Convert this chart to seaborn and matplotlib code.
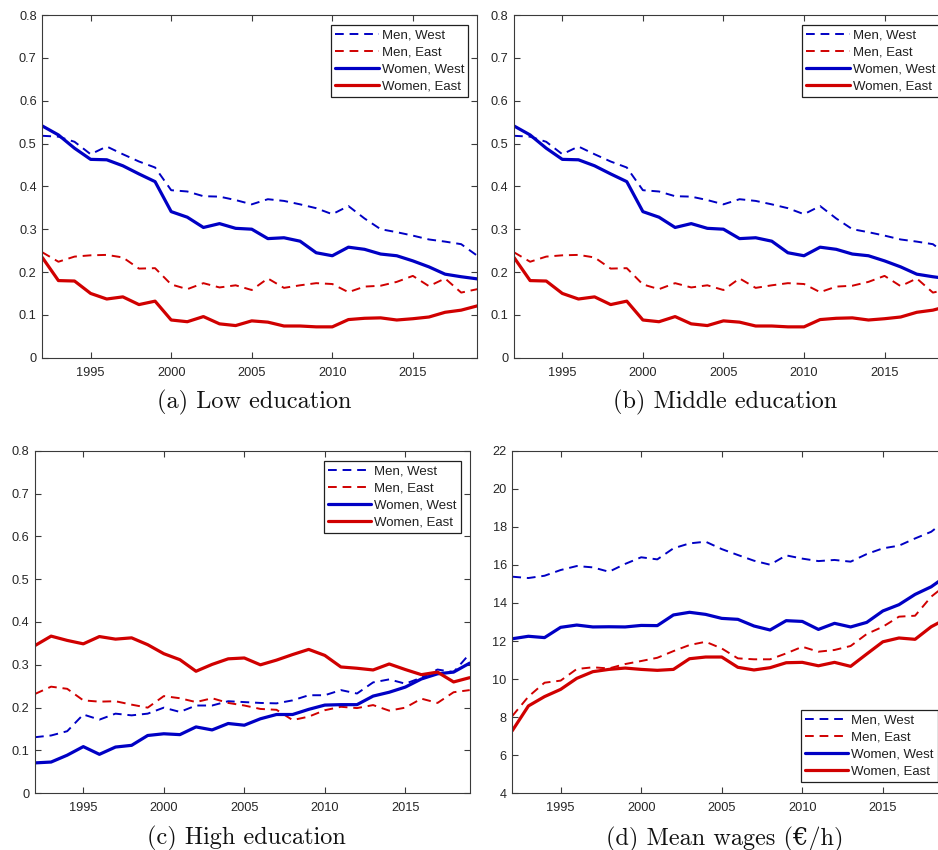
import matplotlib
matplotlib.use("Agg")
import matplotlib.pyplot as plt
import seaborn as sns
import numpy as np
import pandas as pd

years = list(range(1992, 2020))

# (a) Low education
low_men_west = [0.518, 0.516, 0.504, 0.475, 0.493, 0.475, 0.458, 0.444, 0.391, 0.388,
                0.377, 0.376, 0.368, 0.358, 0.370, 0.366, 0.358, 0.349, 0.335, 0.354,
                0.325, 0.300, 0.293, 0.285, 0.276, 0.271, 0.265, 0.238]
low_men_east = [0.246, 0.224, 0.236, 0.239, 0.240, 0.234, 0.208, 0.209, 0.171, 0.160,
                0.174, 0.164, 0.169, 0.158, 0.185, 0.163, 0.169, 0.174, 0.172, 0.153,
                0.166, 0.168, 0.177, 0.191, 0.167, 0.185, 0.152, 0.160]
low_women_west = [0.541, 0.520, 0.489, 0.463, 0.462, 0.448, 0.429, 0.411, 0.341, 0.328,
                  0.304, 0.313, 0.302, 0.300, 0.278, 0.280, 0.272, 0.245, 0.238, 0.258,
                  0.253, 0.242, 0.238, 0.226, 0.212, 0.195, 0.189, 0.184]
low_women_east = [0.234, 0.180, 0.179, 0.150, 0.137, 0.142, 0.124, 0.132, 0.088, 0.084,
                  0.096, 0.079, 0.075, 0.086, 0.083, 0.074, 0.074, 0.072, 0.072, 0.089,
                  0.092, 0.093, 0.088, 0.091, 0.095, 0.106, 0.111, 0.121]

# (b) Middle education
mid_men_west = [0.518, 0.516, 0.504, 0.475, 0.493, 0.475, 0.458, 0.444, 0.391, 0.388,
                0.377, 0.376, 0.368, 0.358, 0.370, 0.366, 0.358, 0.349, 0.335, 0.354,
                0.325, 0.300, 0.293, 0.285, 0.276, 0.271, 0.265, 0.238]
mid_men_east = [0.246, 0.224, 0.236, 0.239, 0.240, 0.234, 0.208, 0.209, 0.171, 0.160,
                0.174, 0.164, 0.169, 0.158, 0.185, 0.163, 0.169, 0.174, 0.172, 0.153,
                0.166, 0.168, 0.177, 0.191, 0.167, 0.185, 0.152, 0.160]
mid_women_west = [0.541, 0.520, 0.489, 0.463, 0.462, 0.448, 0.429, 0.411, 0.341, 0.328,
                  0.304, 0.313, 0.302, 0.300, 0.278, 0.280, 0.272, 0.245, 0.238, 0.258,
                  0.253, 0.242, 0.238, 0.226, 0.212, 0.195, 0.189, 0.184]
mid_women_east = [0.234, 0.180, 0.179, 0.150, 0.137, 0.142, 0.124, 0.132, 0.088, 0.084,
                  0.096, 0.079, 0.075, 0.086, 0.083, 0.074, 0.074, 0.072, 0.072, 0.089,
                  0.092, 0.093, 0.088, 0.091, 0.095, 0.106, 0.111, 0.121]

# (c) High education
high_men_west = [0.131, 0.135, 0.145, 0.184, 0.172, 0.186, 0.182, 0.186, 0.200, 0.190,
                 0.205, 0.205, 0.215, 0.213, 0.211, 0.210, 0.217, 0.229, 0.229, 0.241,
                 0.233, 0.259, 0.266, 0.256, 0.270, 0.289, 0.283, 0.326]
high_men_east = [0.232, 0.249, 0.244, 0.217, 0.214, 0.215, 0.207, 0.200, 0.227, 0.222,
                 0.213, 0.222, 0.211, 0.205, 0.197, 0.195, 0.171, 0.179, 0.194, 0.202,
                 0.199, 0.206, 0.193, 0.200, 0.221, 0.211, 0.236, 0.241]
high_women_west = [0.071, 0.073, 0.089, 0.109, 0.091, 0.108, 0.112, 0.135, 0.139, 0.137,
                   0.155, 0.148, 0.163, 0.159, 0.174, 0.184, 0.184, 0.196, 0.206, 0.207,
                   0.207, 0.227, 0.236, 0.248, 0.267, 0.279, 0.283, 0.304]
high_women_east = [0.345, 0.367, 0.357, 0.349, 0.366, 0.360, 0.363, 0.347, 0.326, 0.312,
                   0.285, 0.301, 0.314, 0.316, 0.300, 0.311, 0.324, 0.336, 0.322, 0.295,
                   0.292, 0.288, 0.302, 0.289, 0.277, 0.283, 0.260, 0.270]

# (d) Mean wages in EUR per hour
wage_men_west = [15.38, 15.31, 15.43, 15.73, 15.94, 15.87, 15.64, 16.05, 16.40, 16.29,
                 16.87, 17.13, 17.22, 16.83, 16.52, 16.22, 16.01, 16.50, 16.33, 16.20,
                 16.26, 16.17, 16.57, 16.87, 17.01, 17.39, 17.74, 18.40]
wage_men_east = [8.06, 9.08, 9.81, 9.92, 10.53, 10.62, 10.56, 10.79, 10.95, 11.12,
                 11.47, 11.79, 11.96, 11.61, 11.09, 11.04, 11.04, 11.35, 11.70, 11.44,
                 11.53, 11.74, 12.37, 12.75, 13.28, 13.33, 14.33, 15.00]
wage_women_west = [12.12, 12.25, 12.18, 12.72, 12.84, 12.74, 12.75, 12.74, 12.82, 12.81,
                   13.37, 13.51, 13.40, 13.19, 13.14, 12.79, 12.58, 13.07, 13.03, 12.61,
                   12.93, 12.74, 12.98, 13.58, 13.91, 14.45, 14.85, 15.45]
wage_women_east = [7.29, 8.59, 9.08, 9.46, 10.04, 10.39, 10.51, 10.58, 10.51, 10.46,
                   10.51, 11.07, 11.16, 11.16, 10.62, 10.48, 10.60, 10.86, 10.88, 10.70,
                   10.88, 10.67, 11.32, 11.96, 12.16, 12.09, 12.75, 13.20]

series_labels = ["Men, West", "Men, East", "Women, West", "Women, East"]
x_ticks = [1995, 2000, 2005, 2010, 2015]
share_ticks = [0, 0.1, 0.2, 0.3, 0.4, 0.5, 0.6, 0.7, 0.8]
share_ticklabels = ["0", "0.1", "0.2", "0.3", "0.4", "0.5", "0.6", "0.7", "0.8"]
wage_ticks = [4, 6, 8, 10, 12, 14, 16, 18, 20, 22]
captions = ["(a) Low education", "(b) Middle education",
            "(c) High education", "(d) Mean wages (\u20ac/h)"]

sns.set_theme(style="ticks")
plt.rcParams["font.family"] = ["Liberation Sans", "DejaVu Sans"]

W, H = 938, 850
fig = plt.figure(figsize=(W / 100, H / 100), dpi=100)
fig.patch.set_facecolor("white")

BLUE = "#0000C4"
RED = "#D00000"
AXC = "#3a3a3a"

def px_axes(left, right, top, bottom):
    return fig.add_axes([left / W, 1 - bottom / H, (right - left) / W, (bottom - top) / H])

panels = [
    dict(box=(42.3, 477.3, 15, 357.7),
         data=[low_men_west, low_men_east, low_women_west, low_women_east],
         ylim=(0, 0.8), yt=share_ticks, ytl=share_ticklabels,
         leg=(331, 25), cap=(254, 402)),
    dict(box=(514, 949, 15, 357.7),
         data=[mid_men_west, mid_men_east, mid_women_west, mid_women_east],
         ylim=(0, 0.8), yt=share_ticks, ytl=share_ticklabels,
         leg=(802.3, 25), cap=(725.5, 402)),
    dict(box=(35, 469.7, 450.7, 793.3),
         data=[high_men_west, high_men_east, high_women_west, high_women_east],
         ylim=(0, 0.8), yt=share_ticks, ytl=share_ticklabels,
         leg=(323.7, 461), cap=(246.7, 838)),
    dict(box=(512.3, 947.3, 450.7, 793.3),
         data=[wage_men_west, wage_men_east, wage_women_west, wage_women_east],
         ylim=(4, 22), yt=wage_ticks, ytl=[str(t) for t in wage_ticks],
         leg=(800.7, 710), cap=(725, 839)),
]

styles = [
    dict(color=BLUE, linestyle=(0, (4.5, 3)), linewidth=1.4),
    dict(color=RED, linestyle=(0, (4.5, 3)), linewidth=1.4),
    dict(color=BLUE, linestyle="-", linewidth=2.3),
    dict(color=RED, linestyle="-", linewidth=2.3),
]

for idx, p in enumerate(panels):
    ax = px_axes(*p["box"])
    for values, label, st in zip(p["data"], series_labels, styles):
        df = pd.DataFrame({"year": years, "value": values})
        sns.lineplot(data=df, x="year", y="value", ax=ax, label=label,
                     color=st["color"], linewidth=st["linewidth"])
        ax.lines[-1].set_linestyle(st["linestyle"])
    ax.set_xlim(1992, 2019)
    ax.set_ylim(*p["ylim"])
    ax.set_xticks(x_ticks)
    ax.set_xticklabels([str(t) for t in x_ticks])
    ax.set_yticks(p["yt"])
    ax.set_yticklabels(p["ytl"])
    ax.set_xlabel("")
    ax.set_ylabel("")
    for s in ax.spines.values():
        s.set_visible(True)
        s.set_color(AXC)
        s.set_linewidth(0.8)
    ax.tick_params(direction="in", top=True, right=True, length=4, width=0.8,
                   color=AXC, labelcolor="#262626", labelsize=9.2, pad=4)
    ax.tick_params(axis="x", pad=6.5)
    handles, labels = ax.get_legend_handles_labels()
    lx, ly = p["leg"]
    leg = ax.legend(handles, labels, loc="upper left",
                    bbox_to_anchor=(lx / W, 1 - ly / H), bbox_transform=fig.transFigure,
                    borderaxespad=0, frameon=True, fancybox=False, framealpha=1,
                    edgecolor="#202020", fontsize=9.5, handlelength=3.3,
                    handletextpad=0.25, labelspacing=0.37, borderpad=0.3)
    leg.get_frame().set_linewidth(0.9)
    for t in leg.get_texts():
        t.set_color("#202020")
    cx, cy = p["cap"]
    fig.text(cx / W, 1 - cy / H, captions[idx], ha="center", va="center",
             fontsize=17.5, family=["cmr10", "DejaVu Serif"], color="#111111")

fig.savefig("out.png", dpi=100, facecolor="white")
